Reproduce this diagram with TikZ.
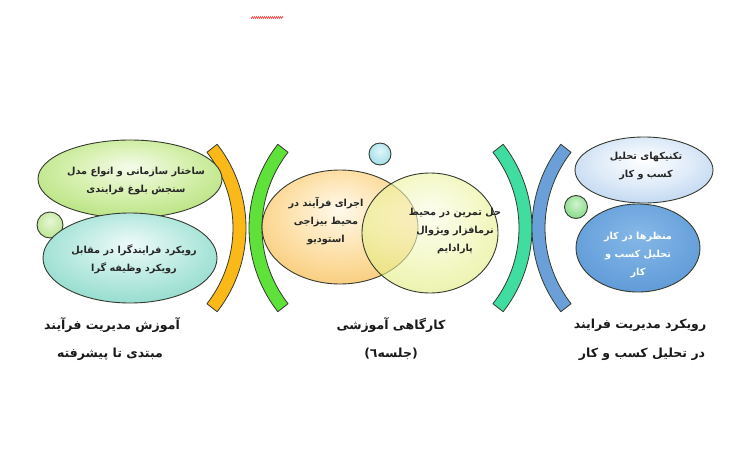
\documentclass[tikz,border=0pt]{standalone}
\usepackage{fontspec}
\TeXXeTstate=1
\newfontfamily\fa[Script=Arabic]{DejaVu Sans}
\usetikzlibrary{shapes.geometric,calc}

\definecolor{edge}{HTML}{363B2F}
\definecolor{tlIn}{HTML}{F4FBEA}\definecolor{tlMid}{HTML}{D6F0AE}\definecolor{tlOut}{HTML}{A0D85C}
\definecolor{blIn}{HTML}{EEFAF8}\definecolor{blMid}{HTML}{BDEBE2}\definecolor{blOut}{HTML}{72CFBE}
\definecolor{lcIn}{HTML}{E8F7D6}\definecolor{lcOut}{HTML}{A8DC78}
\definecolor{oeIn}{HTML}{FFF9EC}\definecolor{oeMid}{HTML}{FDE0A8}\definecolor{oeOut}{HTML}{F3B84C}
\definecolor{yeIn}{HTML}{FCFEEA}\definecolor{yeMid}{HTML}{EEF5A8}\definecolor{yeOut}{HTML}{D3E04C}
\definecolor{ccIn}{HTML}{E2F7FA}\definecolor{ccOut}{HTML}{86D2E0}
\definecolor{trIn}{HTML}{FFFFFF}\definecolor{trMid}{HTML}{DDEAF8}\definecolor{trOut}{HTML}{A0C2E8}
\definecolor{brIn}{HTML}{86B8E8}\definecolor{brMid}{HTML}{6AA3DC}\definecolor{brOut}{HTML}{4D8ACE}
\definecolor{rcIn}{HTML}{D2F4D2}\definecolor{rcOut}{HTML}{66CF66}
\definecolor{cOrange}{HTML}{FAB819}
\definecolor{cGreen}{HTML}{5EE23A}
\definecolor{cTeal}{HTML}{40DDA0}
\definecolor{cBlue}{HTML}{6A9FD8}

\pgfdeclareradialshading{shTL}{\pgfpoint{0bp}{8bp}}{color(0bp)=(tlIn); color(16bp)=(tlMid); color(42bp)=(tlOut); color(60bp)=(tlOut)}
\pgfdeclareradialshading{shBL}{\pgfpoint{0bp}{8bp}}{color(0bp)=(blIn); color(16bp)=(blMid); color(42bp)=(blOut); color(60bp)=(blOut)}
\pgfdeclareradialshading{shLC}{\pgfpoint{0bp}{8bp}}{color(0bp)=(lcIn); color(42bp)=(lcOut); color(60bp)=(lcOut)}
\pgfdeclareradialshading{shOE}{\pgfpoint{0bp}{8bp}}{color(0bp)=(oeIn); color(18bp)=(oeMid); color(44bp)=(oeOut); color(60bp)=(oeOut)}
\pgfdeclareradialshading{shYE}{\pgfpoint{0bp}{8bp}}{color(0bp)=(yeIn); color(18bp)=(yeMid); color(44bp)=(yeOut); color(60bp)=(yeOut)}
\pgfdeclareradialshading{shCC}{\pgfpoint{0bp}{8bp}}{color(0bp)=(ccIn); color(42bp)=(ccOut); color(60bp)=(ccOut)}
\pgfdeclareradialshading{shTR}{\pgfpoint{0bp}{8bp}}{color(0bp)=(trIn); color(18bp)=(trMid); color(44bp)=(trOut); color(60bp)=(trOut)}
\pgfdeclareradialshading{shBR}{\pgfpoint{0bp}{8bp}}{color(0bp)=(brIn); color(22bp)=(brMid); color(46bp)=(brOut); color(60bp)=(brOut)}
\pgfdeclareradialshading{shRC}{\pgfpoint{0bp}{8bp}}{color(0bp)=(rcIn); color(42bp)=(rcOut); color(60bp)=(rcOut)}

\tikzset{
  blob/.style={ellipse, draw=edge, line width=0.9pt, shade, inner sep=0pt},
  brk/.style={draw=edge, line width=0.8pt, line join=round},
  intext/.style={align=center, font=\fa\bfseries\fontsize{9.7}{18}\selectfont, text=black!85},
  labeltext/.style={align=center, font=\fa\bfseries\fontsize{12.5}{16}\selectfont, text=black!90},
}

% ")" shaped bracket: centre x, centre y, colour
\newcommand\closebrk[3]{%
  \draw[brk, fill=#3] plot[domain=-38:38, samples=40] ({#1+136*cos(\x)},{#2+136*sin(\x)})
     -- plot[domain=38:-38, samples=40] ({#1+123*cos(\x)},{#2+123*sin(\x)}) -- cycle;}
% "(" shaped bracket
\newcommand\openbrk[3]{%
  \draw[brk, fill=#3] plot[domain=142:218, samples=40] ({#1+136*cos(\x)},{#2+136*sin(\x)})
     -- plot[domain=218:142, samples=40] ({#1+123*cos(\x)},{#2+123*sin(\x)}) -- cycle;}

\begin{document}
\begin{tikzpicture}[x=1pt,y=-1pt]
\useasboundingbox (0,0) rectangle (750,450);
\fill[white] (0,0) rectangle (750,450);

% spell-check squiggle
\draw[red!75, line width=0.6pt] plot[domain=0:32, samples=65] ({251+\x},{17.5+0.9*sin(180*\x)});

% brackets
\closebrk{110}{228}{cOrange}
\openbrk{385}{228}{cGreen}
\closebrk{396}{228}{cTeal}
\openbrk{668}{228}{cBlue}

% left group
\node[blob, shading=shLC, minimum width=26pt, minimum height=26pt] (lc) at (50,225) {};
\node[blob, shading=shTL, minimum width=184pt, minimum height=78pt] (tl) at (130,179) {};
\node[blob, shading=shBL, minimum width=174pt, minimum height=90pt] (bl) at (130,258) {};

% middle group
\node[blob, shading=shOE, minimum width=156pt, minimum height=114pt] (oe) at (340,227) {};
\node[blob, shading=shYE, fill opacity=0.62, minimum width=136pt, minimum height=120pt] (ye) at (430,233) {};
\node[blob, shading=shCC, minimum width=22pt, minimum height=22pt] (cc) at (380,154) {};

% right group
\node[blob, shading=shTR, minimum width=138pt, minimum height=66pt] (tr) at (644,170) {};
\node[blob, shading=shRC, minimum width=23pt, minimum height=23pt] (rc) at (576,207) {};
\node[blob, shading=shBR, minimum width=124pt, minimum height=88pt] (br) at (638,248) {};

% texts in shapes
\node[intext] (ttl) at (136,181) {\beginR ساختار سازمانی و انواع مدل\endR\\\beginR سنجش بلوغ فرایندی\endR};
\node[intext] (tbl) at (134,259) {\beginR رویکرد فرایندگرا در مقابل\endR\\\beginR رویکرد وظیفه گرا\endR};
\node[intext] (toe) at (326,221) {\beginR اجرای فرآیند در\endR\\\beginR محیط بیزاجی\endR\\\beginR استودیو\endR};
\node[intext] (tye) at (455,231) {\beginR حل تمرین در محیط\endR\\\beginR نرمافزار ویژوال\endR\\\beginR پارادایم\endR};
\node[intext] (ttr) at (646,166) {\beginR تکنیکهای تحلیل\endR\\\beginR کسب و کار\endR};
\node[intext, text=white] (tbr) at (638,255) {\beginR منظرها در کار\endR\\\beginR تحلیل کسب و\endR\\\beginR کار\endR};

% labels
\node[labeltext] (l1a) at (112,325) {\beginR آموزش مدیریت فرآیند\endR};
\node[labeltext] (l1b) at (110,354) {\beginR مبتدی تا پیشرفته\endR};
\node[labeltext] (l2a) at (391,325) {\beginR کارگاهی آموزشی\endR};
\node[labeltext] (l2b) at (391,354) {\beginR (جلسه٦)\endR};
\node[labeltext] (l3a) at (640,325) {\beginR رویکرد مدیریت فرایند\endR};
\node[labeltext] (l3b) at (642,354) {\beginR در تحلیل کسب و کار\endR};
\end{tikzpicture}
\end{document}
